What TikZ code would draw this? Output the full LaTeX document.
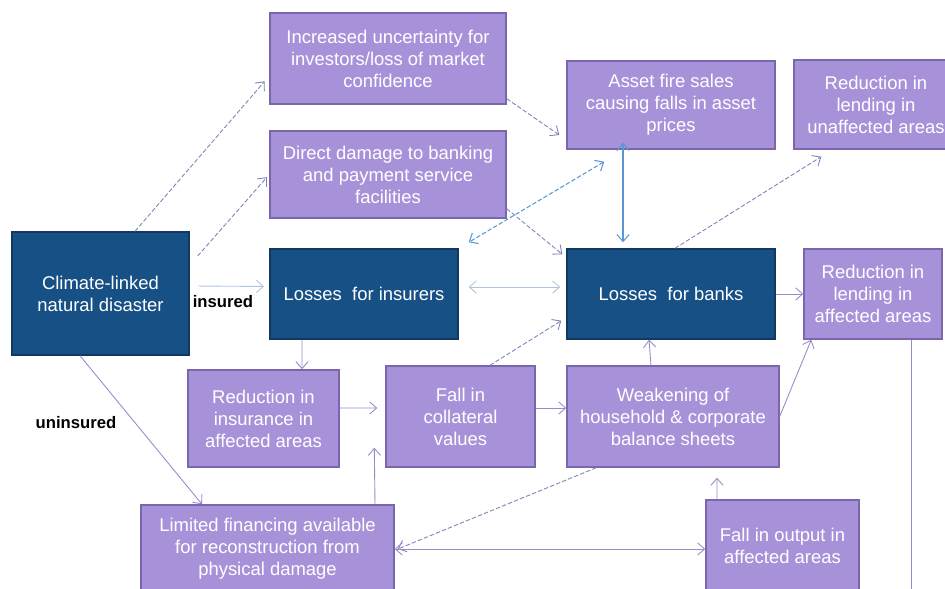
\documentclass[tikz,border=0pt]{standalone}
\usepackage{fontspec}
\setmainfont{Liberation Sans}
\usetikzlibrary{arrows.meta}
\definecolor{boxdark}{RGB}{22,80,132}
\definecolor{edgedark}{RGB}{18,56,96}
\definecolor{boxlilac}{RGB}{167,146,218}
\definecolor{edgelilac}{RGB}{122,102,172}
\definecolor{linkcol}{RGB}{150,140,200}
\definecolor{dashcol}{RGB}{125,130,185}
\definecolor{bluecol}{RGB}{90,150,210}
\definecolor{palecol}{RGB}{175,195,225}

\begin{document}
\begin{tikzpicture}[
	>={Straight Barb[length=4pt, width=7pt]},
	dark/.style={draw=edgedark, line width=0.8pt, fill=boxdark, text=white, inner sep=0pt, align=center, font=\fontsize{10.5}{12.5}\selectfont},
	lilac/.style={dark, draw=edgelilac, fill=boxlilac},
	link/.style={draw=linkcol, line width=0.5pt, arrows={->}},
	dlink/.style={link, draw=dashcol, dash pattern=on 2.5pt off 1.2pt},
	bluelink/.style={link, draw=bluecol, line width=0.6pt},
	palelink/.style={link, draw=palecol},
	tag/.style={font=\bfseries\fontsize{9.5}{11}\selectfont, inner sep=0pt}
	]
	\clip (0,0) rectangle (18.9,11.78);
	\node [dark, minimum width=3.54cm, minimum height=2.46cm] (clim) at (2.01,5.91) {Climate-linked\\natural disaster};
	\node [lilac, minimum width=4.72cm, minimum height=1.82cm] (uncert) at (7.76,10.61) {Increased uncertainty for\\investors/loss of market\\confidence};
	\node [lilac, minimum width=4.72cm, minimum height=1.74cm] (damage) at (7.76,8.29) {Direct damage to banking\\and payment service\\facilities};
	\node [dark, minimum width=3.76cm, minimum height=1.8cm] (insurers) at (7.28,5.9) {Losses\ \ for insurers};
	\node [lilac, minimum width=4.16cm, minimum height=1.76cm] (fire) at (13.42,9.68) {Asset fire sales\\causing falls in asset\\prices};
	\node [lilac, minimum width=3.28cm, minimum height=1.78cm] (unaff) at (17.52,9.69) {Reduction in\\lending in\\unaffected areas};
	\node [dark, minimum width=4.16cm, minimum height=1.8cm] (banks) at (13.42,5.9) {Losses\ \ for banks};
	\node [lilac, minimum width=2.76cm, minimum height=1.8cm] (aff) at (17.46,5.9) {Reduction in\\lending in\\affected areas};
	\node [lilac, minimum width=3.02cm, minimum height=1.94cm] (insur) at (5.27,3.41) {Reduction in\\insurance in\\affected areas};
	\node [lilac, minimum width=2.98cm, minimum height=2.02cm] (collat) at (9.21,3.45) {Fall in\\collateral\\values};
	\node [lilac, minimum width=4.24cm, minimum height=2.02cm] (weak) at (13.46,3.45) {Weakening of\\household \& corporate\\balance sheets};
	\node [lilac, minimum width=5.06cm, minimum height=1.76cm] (limfin) at (5.35,0.8) {Limited financing available\\for reconstruction from\\physical damage};
	\node [lilac, minimum width=3.06cm, minimum height=1.84cm] (output) at (15.65,0.86) {Fall in output in\\affected areas};
	\node [tag] (ins) at (4.46,5.74) {insured};
	\node [tag] (unins) at (1.52,3.32) {uninsured};
	
	\draw [dlink, shorten >=4pt] ([xshift=0.69cm]clim.north) -- ([yshift=-0.35cm]uncert.west);
	\draw [dlink, shorten >=2pt] ([shift={(0.16,0.75)}]clim.east) -- (damage.west);
	\draw [palelink, shorten <=5pt, shorten >=3pt] ([yshift=0.15cm]clim.east) -- ([yshift=0.15cm]insurers.west);
	\draw [link] ([xshift=-0.41cm]clim.south) -- ([xshift=-1.31cm]limfin.north);
	\draw [dlink] ([yshift=0.12cm]uncert.south east) -- ([shift={(-0.14,-0.6)}]fire.west);
	\draw [dlink] ([yshift=0.2cm]damage.south east) -- ([shift={(-0.08,-0.12)}]banks.north west);
	\draw [bluelink, <->] ([shift={(-0.96,0.14)}]fire.south) -- ([shift={(-0.96,0.12)}]banks.north);
	\draw [bluelink, dash pattern=on 2.5pt off 1.2pt, <->] ([shift={(0.76,-0.24)}]fire.south west) -- ([shift={(0.2,0.12)}]insurers.north east);
	\draw [palelink, <->] ([shift={(0.2,0.14)}]insurers.east) -- ([shift={(-0.12,0.14)}]banks.west);
	\draw [dlink] ([xshift=0.08cm]banks.north) -- ([shift={(0.56,-0.14)}]unaff.south west);
	\draw [link] (banks.east) -- (aff.west);
	\draw [link] ([xshift=-1.24cm]insurers.south) -- ([xshift=0.77cm]insur.north);
	\draw [link] ([yshift=0.21cm]insur.east) -- ([shift={(-0.16,0.17)}]collat.west);
	\draw [link] ([xshift=2.15cm]limfin.north) -- ([shift={(-0.22,0.4)}]collat.south west);
	\draw [dlink] ([xshift=0.59cm]collat.north) -- ([shift={(-0.1,0.38)}]banks.south west);
	\draw [link] ([yshift=0.17cm]collat.east) -- ([yshift=0.17cm]weak.west);
	\draw [link] ([xshift=-0.44cm]weak.north) -- ([xshift=-0.44cm]banks.south);
	\draw [link] (weak.east) -- ([xshift=0.16cm]aff.south west);
	\draw [dlink] ([xshift=0.6cm]weak.south west) -- ([xshift=0.06cm]limfin.east);
	\draw [link, <->] (limfin.east) -- (limfin.east -| output.west);
	\draw [link, shorten >=0.2cm] ([xshift=-1.31cm]output.north) -- ([xshift=0.88cm]weak.south);
	\coordinate (affend) at (18.22,-0.3);
	\draw [link, -] ([xshift=0.76cm]aff.south) -- (affend);
	
\end{tikzpicture}
\end{document}
